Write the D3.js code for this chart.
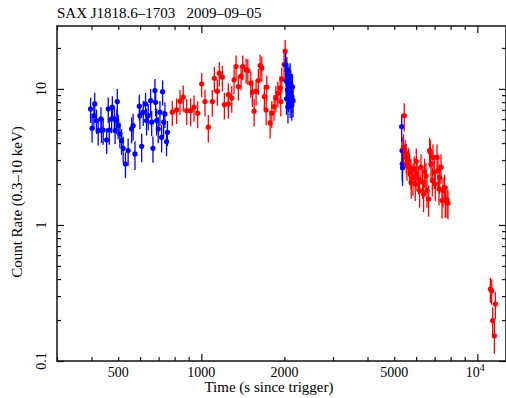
<!DOCTYPE html>
<html>
<head>
<meta charset="utf-8">
<script src="https://cdn.jsdelivr.net/npm/d3@7"></script>
<style>
  body { margin: 0; background: #fff; }
  text { font-family: "Liberation Serif", "Times New Roman", serif; fill: #000; white-space: pre; }
</style>
</head>
<body>
<div id="chart"></div>
<script>
// [time (s since trigger), count rate, error]
const blueEarly = [
  [397, 7.13, 1.5], [402, 5.14, 1.1], [408, 6.36, 1.3], [411, 7.76, 1.6], [417, 5.85, 1.2],
  [423, 4.94, 1.1], [433, 6.02, 1.3], [435, 4.99, 1.0], [441, 4.99, 1.1], [454, 4.22, 0.9],
  [460, 7.13, 1.5], [464, 4.99, 1.1], [473, 6.02, 1.3], [476, 7.34, 1.5], [484, 6.02, 1.2],
  [487, 4.94, 1.0], [494, 5.85, 1.2], [496, 8.07, 1.9], [500, 5.37, 1.1], [507, 4.67, 1.0],
  [514, 4.17, 0.9], [521, 3.66, 0.8], [531, 2.81, 0.6], [543, 3.52, 0.8], [559, 5.08, 1.1],
  [566, 5.37, 1.2], [575, 3.33, 0.8], [596, 7.46, 1.6], [599, 6.36, 1.3], [608, 3.79, 0.9],
  [616, 6.74, 1.4], [628, 7.76, 1.6], [633, 5.85, 1.3], [642, 6.36, 1.4], [655, 8.20, 1.8],
  [661, 5.69, 1.2], [668, 3.66, 0.8], [679, 9.72, 2.1], [683, 7.98, 1.7], [689, 5.85, 1.3],
  [698, 5.08, 1.1], [708, 6.74, 1.4], [718, 4.41, 1.0], [724, 9.55, 2.0], [730, 5.69, 1.2],
  [738, 6.55, 1.4], [748, 4.10, 0.9], [754, 4.80, 1.0]
];
const redEarly = [
  [785, 6.74, 1.4], [814, 7.01, 1.5], [837, 8.12, 1.7], [860, 8.69, 1.9], [885, 6.92, 1.5],
  [915, 6.92, 1.6], [941, 7.34, 1.6], [970, 6.63, 1.5], [1003, 10.9, 2.2], [1031, 8.07, 1.8],
  [1060, 5.23, 1.2], [1096, 8.07, 1.8], [1115, 11.98, 2.5], [1143, 9.62, 2.1], [1162, 13.05, 2.7],
  [1192, 12.19, 2.6], [1212, 7.66, 1.7], [1253, 7.76, 1.7], [1253, 9.08, 1.9], [1289, 8.59, 1.9],
  [1314, 11.65, 2.5], [1336, 14.59, 3.0], [1362, 10.4, 2.2], [1393, 12.4, 2.6], [1413, 14.59, 3.0],
  [1453, 13.8, 2.9], [1474, 13.63, 2.9], [1511, 11.01, 2.4], [1531, 9.46, 2.1], [1553, 6.86, 1.6],
  [1579, 9.62, 2.1], [1609, 11.51, 2.5], [1633, 14.84, 3.1], [1656, 14.27, 3.0], [1692, 8.78, 1.9],
  [1717, 7.0, 1.6], [1727, 10.3, 2.2], [1775, 5.62, 1.3], [1800, 6.63, 1.5], [1835, 7.41, 1.6],
  [1862, 8.59, 1.9], [1893, 9.3, 2.0], [1930, 10.17, 2.2], [1941, 8.07, 1.8], [1956, 11.8, 2.5],
  [1995, 15.09, 3.2], [2012, 18.93, 4.0]
];
const blueMid = [
  [2021, 15.0, 3.6], [2030, 11.45, 2.7], [2035, 8.45, 2.0], [2041, 13.8, 3.3], [2050, 9.83, 2.3],
  [2058, 12.46, 3.0], [2060, 7.37, 1.8], [2063, 10.88, 2.6], [2070, 8.88, 2.1], [2080, 11.86, 2.8],
  [2085, 9.35, 2.2], [2087, 10.34, 2.5], [2098, 12.46, 3.0], [2098, 8.02, 1.9], [2103, 9.5, 2.3],
  [2108, 11.1, 2.6], [2127, 7.63, 1.8], [2130, 8.74, 2.1], [2139, 10.34, 2.5], [2150, 8.2, 2.0]
];
const blueLate = [
  [5320, 5.28, 1.2], [5333, 3.52, 0.9], [5345, 2.81, 0.7], [5358, 2.63, 0.7]
];
const redLate = [
  [5404, 3.73, 0.9], [5435, 6.36, 1.5], [5481, 3.42, 0.8], [5527, 3.15, 0.8], [5559, 2.81, 0.7],
  [5634, 2.97, 0.7], [5680, 2.66, 0.7], [5747, 2.44, 0.6], [5762, 2.06, 0.5], [5844, 2.24, 0.6],
  [5908, 2.58, 0.6], [5958, 2.00, 0.5], [6009, 2.94, 0.7], [6044, 2.37, 0.6], [6125, 2.18, 0.5],
  [6176, 1.79, 0.45], [6249, 2.66, 0.65], [6333, 2.06, 0.5], [6386, 1.69, 0.45], [6439, 2.47, 0.6],
  [6515, 2.30, 0.55], [6570, 1.79, 0.45], [6659, 1.55, 0.4], [6714, 3.52, 0.85], [6753, 3.42, 0.8],
  [6793, 2.81, 0.7], [6867, 2.12, 0.5], [6908, 3.15, 0.75], [6983, 2.44, 0.6], [7041, 2.00, 0.5],
  [7141, 3.15, 0.75], [7202, 2.51, 0.6], [7262, 1.84, 0.45], [7298, 2.24, 0.55], [7383, 2.66, 0.65],
  [7447, 1.51, 0.4], [7509, 1.79, 0.45], [7610, 1.89, 0.45], [7654, 1.53, 0.4], [7764, 1.53, 0.4],
  [7829, 1.45, 0.35]
];
const redFinal = [
  [11148, 0.338, 0.07], [11270, 0.329, 0.07], [11364, 0.198, 0.05], [11526, 0.153, 0.04], [11622, 0.262, 0.06]
];

// axes
const xMajor = [1000, 10000];
const xMinor = [300, 400, 500, 600, 700, 800, 900, 2000, 3000, 4000, 5000, 6000, 7000, 8000, 9000];
const xLabels = [500, 1000, 2000, 5000];
const yMajor = [0.1, 1, 10];
const yMinor = [0.2, 0.3, 0.4, 0.5, 0.6, 0.7, 0.8, 0.9, 2, 3, 4, 5, 6, 7, 8, 9, 20];

const titleText = "SAX J1818.6\u20131703   2009\u201309\u201305";
const xTitle = "Time (s since trigger)";
const yTitle = "Count Rate (0.3\u201310 keV)";

const W = 506, H = 398;
const pLeft = 57, pRight = 506, pTop = 26, pBottom = 361;

const svg = d3.select("#chart").append("svg")
  .attr("width", W).attr("height", H);

const x = d3.scaleLog().domain([300, 12700]).range([pLeft, pRight]);
const y = d3.scaleLog().domain([0.1, 29]).range([pBottom, pTop]);

// tick marks, pointing inward on all four sides
function ticks(axisFn, vals, size, pos) {
  svg.append("g")
    .attr("transform", pos)
    .call(axisFn.tickValues(vals).tickSize(size).tickFormat(""))
    .call(g => g.select(".domain").remove())
    .call(g => g.selectAll("line").attr("stroke", "#111").attr("stroke-width", 1.2));
}
ticks(d3.axisBottom(x), xMajor, -7, `translate(0,${pBottom})`);
ticks(d3.axisBottom(x), xMinor, -4, `translate(0,${pBottom})`);
ticks(d3.axisTop(x), xMajor, -7, `translate(0,${pTop})`);
ticks(d3.axisTop(x), xMinor, -4, `translate(0,${pTop})`);
ticks(d3.axisLeft(y), yMajor, -7, `translate(${pLeft},0)`);
ticks(d3.axisLeft(y), yMinor, -4, `translate(${pLeft},0)`);
ticks(d3.axisRight(y), yMajor, -7, `translate(${pRight},0)`);
ticks(d3.axisRight(y), yMinor, -4, `translate(${pRight},0)`);

// frame
svg.append("rect")
  .attr("x", pLeft).attr("y", pTop)
  .attr("width", pRight - pLeft).attr("height", pBottom - pTop)
  .attr("fill", "none").attr("stroke", "#111").attr("stroke-width", 1.5);

// x tick labels
svg.selectAll(".xl").data(xLabels).enter().append("text")
  .attr("x", d => x(d)).attr("y", 377)
  .attr("text-anchor", "middle").attr("font-size", 14)
  .text(d => d);
const tenK = svg.append("text")
  .attr("x", x(10000) - 2).attr("y", 377)
  .attr("text-anchor", "middle").attr("font-size", 14);
tenK.append("tspan").text("10");
tenK.append("tspan").attr("dy", -6).attr("font-size", 10).text("4");

// y tick labels (rotated)
svg.selectAll(".yl").data(yMajor).enter().append("text")
  .attr("transform", d => `translate(46,${y(d)}) rotate(-90)`)
  .attr("text-anchor", "middle").attr("font-size", 14)
  .text(d => d);

// titles
svg.append("text").attr("x", 57).attr("y", 18).attr("font-size", 15).text(titleText);
svg.append("text").attr("x", 269).attr("y", 392)
  .attr("text-anchor", "middle").attr("font-size", 15).text(xTitle);
svg.append("text")
  .attr("transform", "translate(22,202) rotate(-90)")
  .attr("text-anchor", "middle").attr("font-size", 15).text(yTitle);

// data with error bars
function drawSeries(data, color) {
  const g = svg.append("g");
  g.selectAll("line").data(data).enter().append("line")
    .attr("x1", d => x(d[0])).attr("x2", d => x(d[0]))
    .attr("y1", d => y(d[1] + d[2])).attr("y2", d => y(Math.max(d[1] - d[2], 0.01)))
    .attr("stroke", color).attr("stroke-width", 1.3);
  g.selectAll("circle").data(data).enter().append("circle")
    .attr("cx", d => x(d[0])).attr("cy", d => y(d[1]))
    .attr("r", 2.6).attr("fill", color);
}
drawSeries(blueEarly, "#0000ff");
drawSeries(redEarly, "#ff0000");
drawSeries(blueMid, "#0000ff");
drawSeries(blueLate, "#0000ff");
drawSeries(redLate, "#ff0000");
drawSeries(redFinal, "#ff0000");
</script>
</body>
</html>
